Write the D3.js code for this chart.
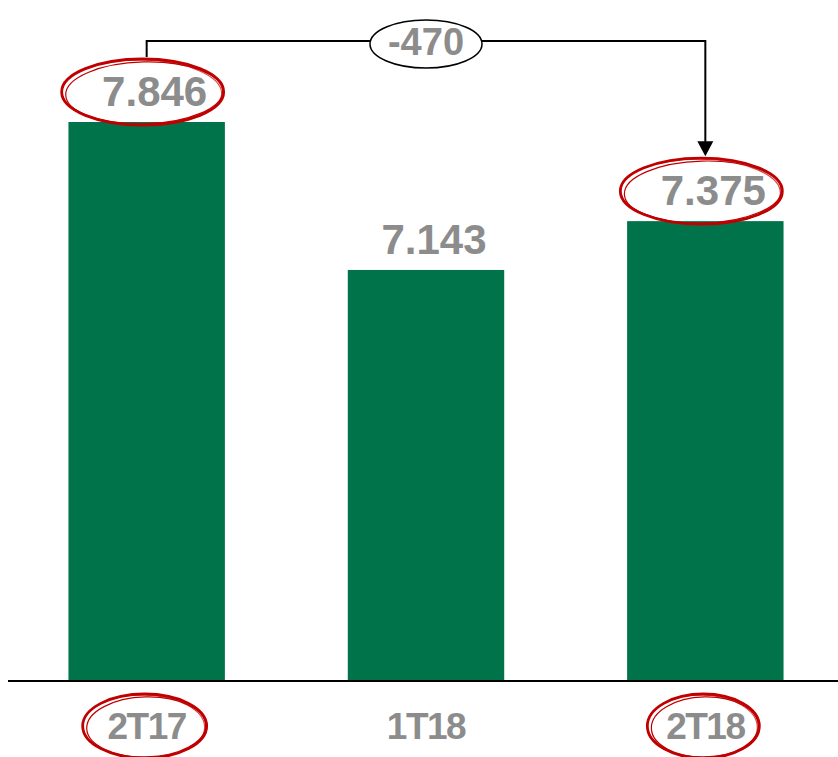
<!DOCTYPE html>
<html>
<head>
<meta charset="utf-8">
<script src="https://cdn.jsdelivr.net/npm/d3@7"></script>
<style>
  body { margin: 0; background: #fff; }
  svg { display: block; }
  text { font-family: "Liberation Sans", Arial, sans-serif; font-weight: bold; fill: #8c8c8c; }
</style>
</head>
<body>
<svg id="chart"></svg>
<script>
// data
const categories = ['2T17', '1T18', '2T18'];
const values = [7846, 7143, 7375];
const labels = ['7.846', '7.143', '7.375'];
const highlighted = ['2T17', '2T18'];
const deltaLabel = '-470';

const width = 838, height = 757;
const baseY = 681;

const svg = d3.select('#chart')
  .attr('width', width)
  .attr('height', height);

const x = d3.scaleBand()
  .domain(categories)
  .range([7, 845])
  .paddingInner(0.44)
  .paddingOuter(0.22);

// axis does not start at zero in the original
const y = d3.scaleLinear()
  .domain([5190, 7846])
  .range([baseY, 122]);

const data = categories.map((c, i) => ({ cat: c, value: values[i], label: labels[i] }));

svg.append('g')
  .selectAll('rect')
  .data(data)
  .join('rect')
  .attr('x', d => x(d.cat))
  .attr('y', d => y(d.value))
  .attr('width', x.bandwidth())
  .attr('height', d => baseY - y(d.value))
  .attr('fill', '#00734a');

// baseline
svg.append('line')
  .attr('x1', 8).attr('x2', width)
  .attr('y1', baseY).attr('y2', baseY)
  .attr('stroke', '#000')
  .attr('stroke-width', 2);

// value labels
svg.append('g')
  .selectAll('text')
  .data(data)
  .join('text')
  .attr('x', d => x(d.cat) + x.bandwidth() / 2 + 8)
  .attr('y', d => y(d.value) - 16)
  .attr('text-anchor', 'middle')
  .style('font-size', '42px')
  .text(d => d.label);

// category labels
svg.append('g')
  .selectAll('text')
  .data(categories)
  .join('text')
  .attr('x', d => x(d) + x.bandwidth() / 2)
  .attr('y', 739)
  .attr('text-anchor', 'middle')
  .style('font-size', '37px')
  .style('letter-spacing', '-1.5px')
  .text(d => d);

// hand drawn red ellipses
function redRing(cx, cy, rx, ry) {
  const g = svg.append('g').attr('fill', 'none').attr('stroke', '#c00000');
  g.append('ellipse')
    .attr('cx', cx).attr('cy', cy).attr('rx', rx).attr('ry', ry)
    .attr('stroke-width', 2.8);
  g.append('ellipse')
    .attr('cx', cx + 1.5).attr('cy', cy + 1).attr('rx', rx - 2.5).attr('ry', ry - 2)
    .attr('stroke-width', 1.2)
    .attr('transform', `rotate(-1.5 ${cx} ${cy})`);
  g.append('ellipse')
    .attr('cx', cx - 1).attr('cy', cy + 0.5).attr('rx', rx - 1).attr('ry', ry - 0.5)
    .attr('stroke-width', 1.2)
    .attr('opacity', 0.7)
    .attr('transform', `rotate(1 ${cx} ${cy})`);
}

data.filter(d => highlighted.includes(d.cat)).forEach(d => {
  const cx = x(d.cat) + x.bandwidth() / 2;
  redRing(cx - 4, y(d.value) - 30, 81, 33);
  redRing(cx - 2, 726, d.cat === '2T17' ? 62 : 56, 32);
});

// bracket arrow from first to last
const first = data[0], last = data[data.length - 1];
const x1 = x(first.cat) + x.bandwidth() / 2;
const x2 = x(last.cat) + x.bandwidth() / 2;
const topY = 41;

svg.append('path')
  .attr('d', `M${x1},${y(first.value) - 65} V${topY} H${x2} V${y(last.value) - 72}`)
  .attr('fill', 'none')
  .attr('stroke', '#000')
  .attr('stroke-width', 2);

svg.append('path')
  .attr('d', `M${x2 - 8},${y(last.value) - 80} L${x2 + 8},${y(last.value) - 80} L${x2},${y(last.value) - 65} Z`)
  .attr('fill', '#000');

// delta bubble
const midX = (x1 + x2) / 2;
svg.append('ellipse')
  .attr('cx', midX).attr('cy', 44)
  .attr('rx', 56).attr('ry', 24)
  .attr('fill', '#fff')
  .attr('stroke', '#000')
  .attr('stroke-width', 1.5);

svg.append('text')
  .attr('x', midX)
  .attr('y', 55)
  .attr('text-anchor', 'middle')
  .style('font-size', '38px')
  .text(deltaLabel);
</script>
</body>
</html>
